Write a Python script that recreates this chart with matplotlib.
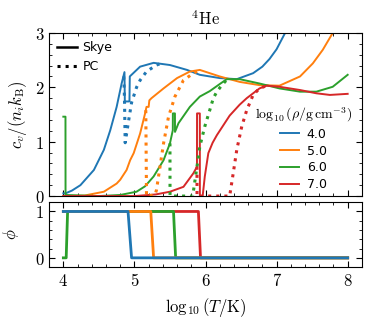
import numpy as np
import matplotlib
matplotlib.use('Agg')
import matplotlib.pyplot as plt
from matplotlib.ticker import MultipleLocator, FuncFormatter
from matplotlib.lines import Line2D

plt.rcParams['mathtext.fontset'] = 'cm'
plt.rcParams['font.family'] = 'DejaVu Sans'

labels = ['4.0', '5.0', '6.0', '7.0']
colors = ['C0', 'C1', 'C2', 'C3']

# Skye heat capacity, log10(T) vs c_v/(n_i k_B)
skye_x = [
    [4.0, 4.03, 4.12, 4.24, 4.43, 4.57, 4.66, 4.75, 4.82, 4.86, 4.865, 4.93,
     4.935, 5.08, 5.27, 5.5, 5.74, 5.92, 6.2, 6.44, 6.67, 6.8, 6.9, 7.0,
     7.12, 7.16],
    [4.0, 4.3, 4.57, 4.75, 4.8, 4.89, 4.94, 4.99, 5.08, 5.15, 5.17, 5.2,
     5.21, 5.24, 5.41, 5.6, 5.78, 5.92, 6.2, 6.48, 6.76, 7.04, 7.33, 7.51,
     7.65, 7.79, 7.83],
    [4.0, 4.03, 4.031, 4.5, 4.8, 5.03, 5.15, 5.27, 5.41, 5.5, 5.54, 5.541,
     5.57, 5.571, 5.62, 5.78, 5.92, 6.06, 6.2, 6.3, 6.48, 6.76, 7.04, 7.33,
     7.56, 7.79, 8.0],
    [4.0, 5.0, 5.3, 5.5, 5.69, 5.83, 5.88, 5.881, 5.92, 5.921, 5.96, 5.99,
     6.04, 6.1, 6.16, 6.34, 6.48, 6.58, 6.76, 6.86, 7.04, 7.33, 7.56, 7.75,
     8.0],
]
skye_y = [
    [0.05, 0.05, 0.1, 0.2, 0.48, 0.85, 1.21, 1.64, 2.07, 2.28, 1.74, 1.74,
     2.2, 2.38, 2.45, 2.41, 2.32, 2.23, 2.17, 2.15, 2.26, 2.38, 2.52, 2.7,
     3.0, 3.1],
    [0.0, 0.01, 0.08, 0.23, 0.3, 0.48, 0.66, 0.79, 1.15, 1.52, 1.64, 1.64,
     1.76, 1.8, 1.98, 2.17, 2.29, 2.32, 2.2, 2.1, 2.04, 2.03, 2.2, 2.44,
     2.69, 3.0, 3.1],
    [1.46, 1.46, 0.02, 0.0, 0.02, 0.08, 0.18, 0.36, 0.66, 0.97, 1.21, 1.52,
     1.52, 1.18, 1.34, 1.64, 1.83, 1.93, 2.06, 2.15, 2.15, 2.07, 1.98, 1.92,
     1.92, 2.01, 2.23],
    [0.0, 0.0, 0.03, 0.08, 0.17, 0.42, 0.54, 1.52, 1.52, 0.0, 0.0, 0.36,
     0.79, 0.98, 1.12, 1.48, 1.68, 1.8, 1.98, 2.03, 2.01, 1.95, 1.89, 1.86,
     1.88],
]

# PC heat capacity, only where it departs from Skye
pc_x = [
    [4.85, 4.86, 4.87, 4.92, 4.96, 5.03, 5.08, 5.17, 5.31, 5.4],
    [5.16, 5.17, 5.29, 5.31, 5.36, 5.41, 5.48, 5.57, 5.69, 5.83, 5.92],
    [5.5, 5.501, 5.82, 5.88, 5.92, 5.99, 6.06, 6.11, 6.16, 6.23, 6.3],
    [5.88, 5.881, 6.34, 6.39, 6.44, 6.51, 6.58, 6.67, 6.76, 6.86],
]
pc_y = [
    [2.2, 1.8, 0.98, 1.4, 1.72, 2.0, 2.13, 2.29, 2.41, 2.45],
    [1.58, 0.0, 0.02, 0.11, 0.54, 0.97, 1.46, 1.83, 2.13, 2.26, 2.32],
    [0.97, 0.0, 0.0, 0.54, 0.91, 1.28, 1.58, 1.8, 1.92, 2.04, 2.14],
    [0.54, 0.0, 0.0, 0.42, 0.85, 1.28, 1.58, 1.86, 1.98, 2.03],
]

# solid fraction phi
phi_x = [
    [4.0, 4.91, 4.96, 8.0],
    [4.0, 5.23, 5.27, 8.0],
    [4.0, 4.04, 4.06, 5.55, 5.58, 8.0],
    [4.0, 5.9, 5.93, 8.0],
]
phi_y = [
    [1, 1, 0, 0],
    [1, 1, 0, 0],
    [0, 0, 1, 1, 0, 0],
    [1, 1, 0, 0],
]

fig = plt.figure(figsize=(3.75, 3.23), dpi=100)
ax1 = fig.add_axes([0.131, 0.393, 0.834, 0.505])
ax2 = fig.add_axes([0.131, 0.173, 0.834, 0.201])

for i in range(4):
    ax1.plot(skye_x[i], skye_y[i], color=colors[i], lw=1.4, label=labels[i])
for i in range(4):
    ax1.plot(pc_x[i], pc_y[i], color=colors[i], lw=2.2, ls=':')

for i in reversed(range(4)):
    ax2.plot(phi_x[i], phi_y[i], color=colors[i], lw=2.0)

mathfmt = FuncFormatter(lambda v, p: '$%d$' % round(v))
for ax in (ax1, ax2):
    ax.set_xlim(3.8, 8.2)
    ax.xaxis.set_major_locator(MultipleLocator(1))
    ax.xaxis.set_minor_locator(MultipleLocator(0.2))
    ax.yaxis.set_minor_locator(MultipleLocator(0.2))
    ax.tick_params(which='both', direction='in', top=True, right=True)
    ax.tick_params(which='major', length=4, labelsize=12)
    ax.tick_params(which='minor', length=2)
    ax.xaxis.set_major_formatter(mathfmt)
    ax.yaxis.set_major_formatter(mathfmt)

ax1.set_ylim(0, 3)
ax1.yaxis.set_major_locator(MultipleLocator(1))
ax1.tick_params(labelbottom=False)
ax1.set_ylabel(r'$c_v/(n_i k_{\rm B})$', fontsize=12, labelpad=4)
ax1.set_title(r'$^4{\rm He}$', fontsize=12, pad=6)

ax2.set_ylim(-0.2, 1.2)
ax2.yaxis.set_major_locator(MultipleLocator(1))
ax2.set_ylabel(r'$\phi$', fontsize=12, labelpad=10)
ax2.set_xlabel(r'$\log_{10}(T/{\rm K})$', fontsize=12)

handles = [Line2D([], [], color='k', lw=1.8),
           Line2D([], [], color='k', lw=2.2, ls=':')]
leg1 = ax1.legend(handles, ['Skye', 'PC'], loc='upper left', frameon=False,
                  fontsize=9, handlelength=1.6, handletextpad=0.4,
                  borderaxespad=0.25)
ax1.add_artist(leg1)
ax1.legend(loc='lower right', frameon=False, fontsize=9,
           title=r'$\log_{10}(\rho/{\rm g\,cm^{-3}})$', title_fontsize=10,
           handlelength=1.5, handletextpad=0.6, labelspacing=0.3,
           borderaxespad=0.0, bbox_to_anchor=(0.985, 0.0))

fig.savefig('out.png', dpi=100)
